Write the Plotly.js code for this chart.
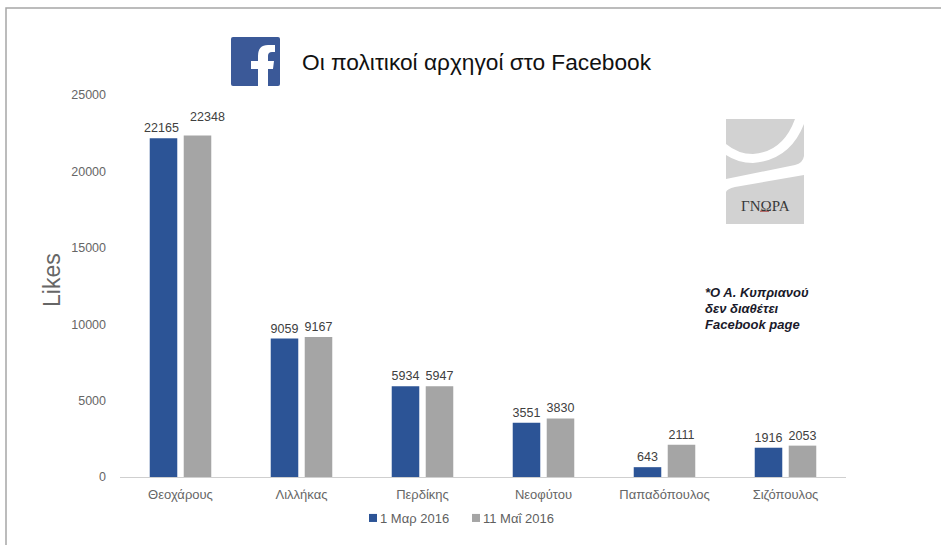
<!DOCTYPE html>
<html><head><meta charset="utf-8">
<script src="https://cdn.plot.ly/plotly-3.0.1.min.js"></script>
<style>html,body{margin:0;padding:0;background:#fff;overflow:hidden}</style></head>
<body><div id="chart" style="width:941px;height:545px"></div>
<script>
const categories = ["Θεοχάρους","Λιλλήκας","Περδίκης","Νεοφύτου","Παπαδόπουλος","Σιζόπουλος"];
const seriesMar = [22165,9059,5934,3551,643,1916];
const seriesMay = [22348,9167,5947,3830,2111,2053];
const seriesNames = ["1 Μαρ 2016","11 Μαΐ 2016"];
const yTicks = [0,5000,10000,15000,20000,25000];
const titleText = "Οι πολιτικοί αρχηγοί στο Facebook";
const noteLines = ["*Ο Α. Κυπριανού","δεν διαθέτει","Facebook page"];

const W=941,H=545,L=120,R=846,T=95,B=477;
const fx=x=>(x-L)/(R-L), fy=y=>(B-y)/(B-T);
const P=(s)=>s.replace(/(-?[\d.]+),(-?[\d.]+)/g,(m,a,b)=>fx(+a).toFixed(5)+","+fy(+b).toFixed(5));
const pathShape=(d,fill)=>({type:"path",xref:"paper",yref:"paper",path:P(d),fillcolor:fill,line:{width:0},layer:"above"});
const font="Liberation Sans, Arial, sans-serif";

const trace=(name,y,color)=>({type:"bar",name,x:categories,y,marker:{color},
  text:y.map(String),textposition:"outside",cliponaxis:false,constraintext:"none",
  textfont:{family:font,size:12.5,color:"#404040"},hoverinfo:"x+y"});

const frame=pathShape("M6,545 L6,8 L941,8","rgba(0,0,0,0)");
frame.line={color:"#a6a6a6",width:1.5};
const shapes=[
  frame,
  pathShape("M233,37 L278,37 Q280,37 280,39 L280,84 Q280,86 278,86 L233,86 Q231,86 231,84 L231,39 Q231,37 233,37 Z","#3b5998"),
  pathShape("M268,86 L268,69 L273,69 L274,61 L268,61 L268,56 Q268,52 272,52 L275,52 L275,45 L268,45 Q258,45 258,56 L258,61 L251,61 L251,69 L258,69 L258,86 Z","#ffffff"),
  pathShape("M726,119 L804,119 L804,224 L726,224 Z","#d2d2d2"),
  pathShape("M795,119 Q783,152 753,154 Q738,154 726,144 L726,155 Q738,163 753,163 Q790,160 804,124 L804,119 Z","#ffffff"),
  pathShape("M726,179 L795,165 Q803,163 804,156 L804,175 L735,187 Q727,189 726,192 Z","#ffffff"),
  pathShape("M760,210.5 L769,210.5 L769,212 L760,212 Z","#b56a6a")
];

const annotations=[
  {xref:"paper",yref:"paper",x:fx(300),y:fy(62),xanchor:"left",yanchor:"middle",showarrow:false,
   text:titleText,font:{family:font,size:22.7,color:"#111"}},
  {xref:"paper",yref:"paper",x:fx(52),y:fy(280),xanchor:"center",yanchor:"middle",showarrow:false,textangle:-90,
   text:"Likes",font:{family:font,size:23,color:"#666"}},
  {xref:"paper",yref:"paper",x:fx(765.5),y:fy(206),xanchor:"center",yanchor:"middle",showarrow:false,
   text:"ΓΝΩΡΑ",font:{family:"Liberation Serif, serif",size:15,color:"#3a3a3a"}},
  ...noteLines.map((t,i)=>({xref:"paper",yref:"paper",x:fx(703),y:fy(292+16*i),xanchor:"left",yanchor:"middle",showarrow:false,
   text:"<b><i>"+t+"</i></b>",font:{family:font,size:13,color:"#1a1a2a"}}))
];

const layout={width:W,height:H,margin:{l:L,r:W-R,t:T,b:H-B,autoexpand:false},
  paper_bgcolor:"#fff",plot_bgcolor:"#fff",showlegend:true,
  barmode:"group",bargap:0.438,bargroupgap:0.19,
  font:{family:font,size:12,color:"#666"},
  xaxis:{type:"category",showgrid:false,showline:true,linecolor:"#cfcfcf",linewidth:1,ticks:"",
    tickfont:{family:font,size:13,color:"#666"},ticklabelstandoff:5},
  yaxis:{range:[0,25000],tickvals:yTicks,ticktext:yTicks.map(String),showgrid:false,zeroline:false,ticks:"",
    tickfont:{family:font,size:12.5,color:"#666"},ticklabelstandoff:13},
  legend:{orientation:"h",xref:"paper",yref:"paper",x:fx(340),y:fy(503),xanchor:"left",yanchor:"top",
    font:{family:font,size:13,color:"#5f5f5f"},itemwidth:30,traceorder:"normal",bgcolor:"rgba(0,0,0,0)"},
  shapes,annotations};

Plotly.newPlot("chart",[trace(seriesNames[0],seriesMar,"#2c5496"),trace(seriesNames[1],seriesMay,"#a5a5a5")],layout,{displayModeBar:false,staticPlot:true}).then(()=>{
  // tighten the legend: small square right beside its label, as in the reference
  const items=document.querySelectorAll("#chart .legend .traces");
  let firstX=null, y=0;
  items.forEach((g,i)=>{
    const m=/translate\(([-\d.]+)[ ,]+([-\d.]+)\)/.exec(g.getAttribute("transform")||"");
    if(m){ if(i===0){firstX=+m[1];y=+m[2];}
      g.setAttribute("transform","translate("+(firstX+103*i)+","+y+")"); }
    g.querySelectorAll(".legendpoints path").forEach(p=>p.setAttribute("transform","translate(33,0) scale(0.67)"));
  });
  // the two tallest labels sit apart in the reference
  const nudges={"22165":[-2,0],"22348":[10,-9]};
  document.querySelectorAll("#chart .bars text").forEach(t=>{
    const n=nudges[t.textContent.trim()];
    if(n) t.setAttribute("transform","translate("+n[0]+","+n[1]+") "+(t.getAttribute("transform")||""));
  });
});
</script></body></html>
